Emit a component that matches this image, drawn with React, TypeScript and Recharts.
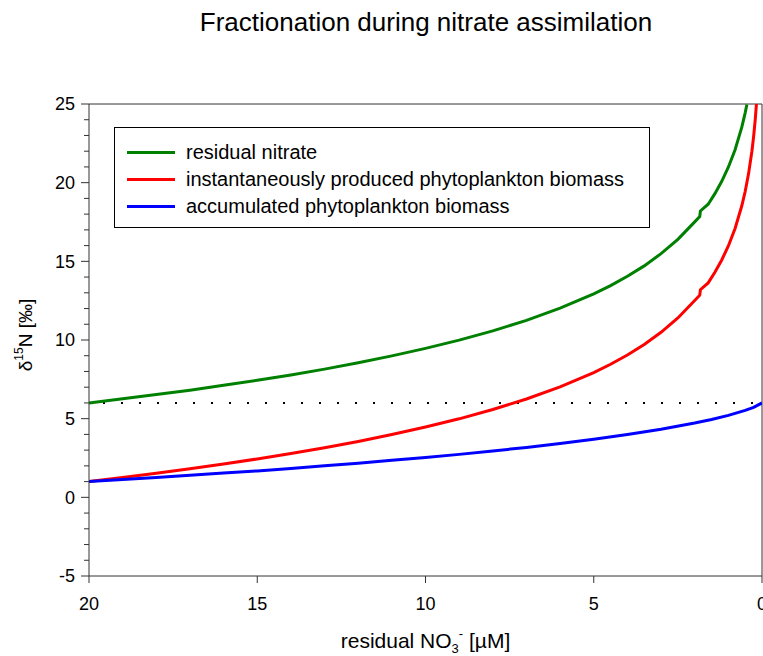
import React from "react";
import {
  Legend,
  Line,
  LineChart,
  ReferenceLine,
  XAxis,
  YAxis,
} from "recharts";

const FONT = "'Liberation Sans', Arial, Helvetica, sans-serif";

// residual nitrate concentration (µM) vs δ15N (‰)
const residualNitrate = [
  { c: 20, d: 6.0 },
  { c: 19, d: 6.26 },
  { c: 18, d: 6.53 },
  { c: 17, d: 6.81 },
  { c: 16, d: 7.12 },
  { c: 15, d: 7.44 },
  { c: 14, d: 7.78 },
  { c: 13, d: 8.15 },
  { c: 12, d: 8.55 },
  { c: 11, d: 8.99 },
  { c: 10, d: 9.47 },
  { c: 9, d: 9.99 },
  { c: 8, d: 10.58 },
  { c: 7, d: 11.25 },
  { c: 6, d: 12.02 },
  { c: 5, d: 12.93 },
  { c: 4.5, d: 13.46 },
  { c: 4, d: 14.05 },
  { c: 3.5, d: 14.71 },
  { c: 3, d: 15.49 },
  { c: 2.5, d: 16.4 },
  { c: 2, d: 17.51 },
  { c: 1.85, d: 17.85 },
  { c: 1.83, d: 18.2 },
  { c: 1.6, d: 18.63 },
  { c: 1.4, d: 19.3 },
  { c: 1.2, d: 20.07 },
  { c: 1.0, d: 20.98 },
  { c: 0.8, d: 22.09 },
  { c: 0.6, d: 23.53 },
  { c: 0.5, d: 24.44 },
  { c: 0.45, d: 24.97 },
];

const instantBiomass = [
  { c: 20, d: 1.0 },
  { c: 19, d: 1.26 },
  { c: 18, d: 1.53 },
  { c: 17, d: 1.81 },
  { c: 16, d: 2.12 },
  { c: 15, d: 2.44 },
  { c: 14, d: 2.78 },
  { c: 13, d: 3.15 },
  { c: 12, d: 3.55 },
  { c: 11, d: 3.99 },
  { c: 10, d: 4.47 },
  { c: 9, d: 4.99 },
  { c: 8, d: 5.58 },
  { c: 7, d: 6.25 },
  { c: 6, d: 7.02 },
  { c: 5, d: 7.93 },
  { c: 4.5, d: 8.46 },
  { c: 4, d: 9.05 },
  { c: 3.5, d: 9.71 },
  { c: 3, d: 10.49 },
  { c: 2.5, d: 11.4 },
  { c: 2, d: 12.51 },
  { c: 1.85, d: 12.85 },
  { c: 1.83, d: 13.2 },
  { c: 1.6, d: 13.63 },
  { c: 1.4, d: 14.3 },
  { c: 1.2, d: 15.07 },
  { c: 1.0, d: 15.98 },
  { c: 0.8, d: 17.09 },
  { c: 0.6, d: 18.53 },
  { c: 0.5, d: 19.44 },
  { c: 0.4, d: 20.56 },
  { c: 0.3, d: 22.0 },
  { c: 0.25, d: 22.91 },
  { c: 0.2, d: 24.03 },
  { c: 0.165, d: 25.0 },
];

const accumulatedBiomass = [
  { c: 20, d: 1.0 },
  { c: 19, d: 1.13 },
  { c: 18, d: 1.26 },
  { c: 17, d: 1.4 },
  { c: 16, d: 1.54 },
  { c: 15, d: 1.68 },
  { c: 14, d: 1.84 },
  { c: 13, d: 2.0 },
  { c: 12, d: 2.17 },
  { c: 11, d: 2.35 },
  { c: 10, d: 2.53 },
  { c: 9, d: 2.73 },
  { c: 8, d: 2.95 },
  { c: 7, d: 3.17 },
  { c: 6, d: 3.42 },
  { c: 5, d: 3.69 },
  { c: 4, d: 3.99 },
  { c: 3, d: 4.33 },
  { c: 2, d: 4.72 },
  { c: 1.5, d: 4.95 },
  { c: 1, d: 5.21 },
  { c: 0.5, d: 5.53 },
  { c: 0.25, d: 5.72 },
  { c: 0, d: 6.0 },
];

const xTicks = [20, 15, 10, 5, 0];
const yTicks = Array.from({ length: 31 }, (_, i) => i - 5);
const initialDelta = 6;

const series = [
  { name: "residual nitrate", color: "#008000", data: residualNitrate },
  { name: "instantaneously produced phytoplankton biomass", color: "#ff0000", data: instantBiomass },
  { name: "accumulated phytoplankton biomass", color: "#0000ff", data: accumulatedBiomass },
];

const AXIS = "#333";
const TICK_FONT = 18;

// y ticks every 1, labelled every 5
function YTick(props: any) {
  const { x, y, payload } = props;
  const v = payload.value as number;
  const major = v % 5 === 0;
  const axisX = x + 6 + 8;
  return (
    <g>
      <line x1={axisX - (major ? 8 : 5)} x2={axisX} y1={y} y2={y} stroke={AXIS} strokeWidth={1} />
      {major && (
        <text x={x} y={y} dy="0.355em" textAnchor="end" fontSize={TICK_FONT} fontFamily={FONT} fill="#000">
          {v}
        </text>
      )}
    </g>
  );
}

function LegendBox() {
  return (
    <div
      style={{
        width: 536,
        height: 101,
        boxSizing: "border-box",
        border: "1px solid #000",
        background: "#fff",
        paddingTop: 11,
        fontFamily: FONT,
        fontSize: 20,
      }}
    >
      {series.map((s) => (
        <div key={s.name} style={{ display: "flex", alignItems: "center", height: 27 }}>
          <div style={{ width: 48, height: 3, background: s.color, marginLeft: 12, marginRight: 11 }} />
          <span style={{ color: "#000", whiteSpace: "nowrap" }}>{s.name}</span>
        </div>
      ))}
    </div>
  );
}

function XLabel(props: any) {
  const { viewBox } = props;
  const cx = viewBox.x + viewBox.width / 2;
  return (
    <text x={cx} y={648} textAnchor="middle" fontSize={21} fontFamily={FONT} fill="#000">
      residual NO
      <tspan fontSize={13} dy={5}>3</tspan>
      <tspan fontSize={13} dy={-15}>-</tspan>
      <tspan dy={10}> [µM]</tspan>
    </text>
  );
}

function YLabel() {
  const cx = 27;
  const cy = 335;
  return (
    <text
      x={cx}
      y={cy}
      transform={`rotate(-90 ${cx} ${cy})`}
      textAnchor="middle"
      dominantBaseline="middle"
      fontSize={19}
      fontFamily={FONT}
      fill="#000"
    >
      δ<tspan fontSize={12} dy={-7}>15</tspan>
      <tspan dy={7}>N [‰]</tspan>
    </text>
  );
}

export default function App() {
  return (
    <div style={{ position: "absolute", left: 0, top: 0, width: 763, height: 656, background: "#fff" }}>
      <div
        style={{
          position: "absolute",
          left: 0,
          top: 7,
          width: 852,
          textAlign: "center",
          fontFamily: FONT,
          fontSize: 26,
          color: "#000",
        }}
      >
        Fractionation during nitrate assimilation
      </div>
      <LineChart width={763} height={656} margin={{ top: 104, right: 1, left: 39, bottom: 50 }}>
        <XAxis
          type="number"
          dataKey="c"
          domain={[0, 20]}
          reversed
          ticks={xTicks}
          interval={0}
          allowDataOverflow
          height={30}
          tickSize={7}
          tickMargin={14}
          stroke={AXIS}
          tick={{ fontSize: TICK_FONT, fill: "#000", fontFamily: FONT }}
          label={<XLabel />}
        />
        <YAxis
          type="number"
          dataKey="d"
          domain={[-5, 25]}
          ticks={yTicks}
          interval={0}
          allowDataOverflow
          width={50}
          tickSize={8}
          tickMargin={6}
          tickLine={false}
          stroke={AXIS}
          tick={<YTick />}
          label={<YLabel />}
        />
        <ReferenceLine y={25} stroke={AXIS} strokeWidth={1} />
        <ReferenceLine x={0} stroke={AXIS} strokeWidth={1} />
        <ReferenceLine
          y={initialDelta}
          stroke="#000"
          strokeWidth={2}
          strokeDasharray="2 16"
          strokeDashoffset={4}
        />
        {series.map((s) => (
          <Line
            key={s.name}
            data={s.data}
            dataKey="d"
            name={s.name}
            type="linear"
            stroke={s.color}
            strokeWidth={3}
            dot={false}
            activeDot={false}
            isAnimationActive={false}
          />
        ))}
        <Legend
          layout="horizontal"
          verticalAlign="middle"
          align="center"
          wrapperStyle={{ left: 114, top: 127, width: 536, height: 101 }}
          content={() => <LegendBox />}
        />
      </LineChart>
    </div>
  );
}
